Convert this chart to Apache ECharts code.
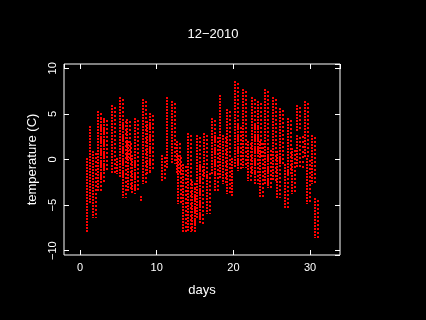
<!DOCTYPE html>
<html lang="en">
<head>
    <meta charset="UTF-8">
    <title>12-2010</title>
    <script src="https://cdn.jsdelivr.net/npm/echarts@6.0.0/dist/echarts.min.js"></script>
    <style>
        body { margin: 0; background: #000; }
        #chart { width: 426px; height: 320px; }
    </style>
</head>
<body>
<div id="chart"></div>
<script>
    // streaks of readings: day range and temperature range (C)
    var dayStart = [0.85, 1.30, 1.74, 2.30, 2.74, 3.17, 4.13, 4.78, 5.22, 5.65, 6.09, 6.30, 6.74, 7.17, 7.96,
        8.26, 8.70, 9.13, 10.74, 11.30, 11.96, 12.61, 12.83, 13.48, 14.13, 14.57, 15.22, 15.00, 15.65, 16.22,
        16.52, 17.17, 17.61, 18.26, 18.70, 19.22, 19.78, 20.22, 20.65, 21.30, 21.87, 22.39, 22.83, 23.26, 23.48,
        24.13, 24.57, 25.22, 25.65, 26.09, 26.74, 27.17, 27.61, 28.26, 28.26, 29.35, 29.57, 30.22, 30.65];
    var dayEnd = [1.17, 1.61, 2.04, 2.74, 3.17, 3.48, 4.78, 5.00, 5.65, 6.09, 6.52, 6.74, 7.17, 7.83, 8.00,
        8.70, 9.13, 9.78, 11.17, 11.52, 12.61, 13.04, 13.26, 14.13, 14.57, 15.22, 15.65, 15.20, 16.09, 16.74,
        17.17, 17.61, 18.26, 18.57, 19.13, 19.78, 20.13, 20.65, 21.09, 21.87, 22.39, 22.83, 23.26, 23.70, 24.13,
        24.78, 25.22, 25.65, 26.09, 26.74, 27.17, 27.61, 28.26, 28.70, 29.13, 29.70, 30.00, 30.65, 31.09];
    var tempLow = [-7.9, -4.9, -6.4, -3.5, -2.7, -1.3, -1.6, -1.6, -2.0, -4.2, -0.2, -3.5, -3.8, -3.5, -4.6,
        -2.7, -1.6, -1.3, -2.4, -0.9, -0.5, -1.6, -4.9, -7.9, -7.9, -8.0, -6.4, -8.0, -7.1, -2.0,
        -6.0, -1.6, -3.5, -2.0, -2.7, -3.8, -4.0, -0.9, -1.3, -0.9, -2.4, -1.6, -2.7, 0.2, -4.2,
        -2.7, -3.1, -2.4, -4.2, -0.5, -5.4, -1.6, -3.8, 3.1, -0.9, 0.2, -4.9, -2.7, -8.6];
    var tempHigh = [0.2, 3.7, 0.9, 5.3, 4.6, 4.6, 6.0, 0.2, 6.9, 4.4, 4.4, 2.0, 0.5, 4.6, -4.0,
        6.6, 4.2, 5.1, 0.5, 6.8, 6.4, 2.0, 0.5, -0.5, 2.9, -2.4, 2.7, -3.1, -0.5, 2.9,
        -1.3, 4.6, 2.7, 7.1, 2.7, 5.5, 0.2, 8.6, 3.8, 7.7, 2.0, 6.9, 3.8, 6.4, 2.0,
        7.7, 1.3, 6.8, 0.9, 5.7, -0.5, 4.6, 1.3, 6.0, 2.7, 6.4, 0.2, 2.7, -4.2];

    var xTicks = [0, 10, 20, 30];
    var yTicks = [-10, -5, 0, 5, 10];

    var streaks = dayStart.map(function (d, i) {
        return [d, dayEnd[i], tempLow[i], tempHigh[i]];
    });

    var font = 'Liberation Sans, Arial, sans-serif';
    var minus = function (v) { return String(v).replace('-', '\u2212'); };

    var chart = echarts.init(document.getElementById('chart'));

    // each streak is drawn as a few dotted columns, like the dense points in the original
    var renderStreak = function (params, api) {
        var top = api.coord([api.value(0), api.value(3)]);
        var bot = api.coord([api.value(1), api.value(2)]);
        var children = [];
        var k = 0;
        for (var x = Math.round(top[0]); x <= Math.round(bot[0]); x += 3) {
            children.push({
                type: 'line',
                shape: { x1: x, y1: Math.round(top[1]), x2: x, y2: Math.round(bot[1]) },
                style: { stroke: '#ff0000', lineWidth: 2, lineDash: [2, 1 + (k % 3)], lineDashOffset: (k * 2) % 5 }
            });
            k++;
        }
        return { type: 'group', children: children };
    };

    var tick = { inside: true, length: 5, lineStyle: { color: '#fff' } };

    var baseX = {
        type: 'value', min: -2.09, max: 33.9,
        axisLine: { show: false, onZero: false },
        splitLine: { show: false },
        axisTick: tick
    };
    var baseY = {
        type: 'value', min: -10.47, max: 10.47,
        axisLine: { show: false, onZero: false },
        splitLine: { show: false },
        axisTick: tick
    };

    var option = {
        backgroundColor: '#000',
        animation: false,
        title: {
            text: '12\u22122010', left: 'center', top: 28, padding: 0,
            textStyle: { color: '#fff', fontSize: 13, fontWeight: 'normal', fontFamily: font }
        },
        grid: {
            left: 64, top: 64, width: 276, height: 191,
            show: true, borderColor: '#fff', borderWidth: 1, backgroundColor: 'transparent'
        },
        xAxis: [
            Object.assign({}, baseX, {
                position: 'bottom',
                name: 'days', nameLocation: 'middle', nameGap: 29,
                nameTextStyle: { color: '#fff', fontSize: 13, fontFamily: font },
                axisLabel: {
                    color: '#fff', fontSize: 11, fontFamily: font, margin: 7,
                    showMinLabel: false, showMaxLabel: false,
                    formatter: function (v) { return xTicks.indexOf(v) >= 0 ? minus(v) : ''; }
                }
            }),
            Object.assign({}, baseX, { position: 'top', axisLabel: { show: false } })
        ],
        yAxis: [
            Object.assign({}, baseY, {
                position: 'left',
                name: 'temperature (C)', nameLocation: 'middle', nameGap: 24,
                nameTextStyle: { color: '#fff', fontSize: 13, fontFamily: font },
                axisLabel: {
                    color: '#fff', fontSize: 11, fontFamily: font, margin: 6, rotate: 90,
                    showMinLabel: false, showMaxLabel: false,
                    formatter: function (v) { return yTicks.indexOf(v) >= 0 ? minus(v) : ''; }
                }
            }),
            Object.assign({}, baseY, { position: 'right', axisLabel: { show: false } })
        ],
        series: [{
            type: 'custom',
            renderItem: renderStreak,
            encode: { x: [0, 1], y: [2, 3] },
            data: streaks,
            clip: true
        }]
    };

    chart.setOption(option);
</script>
</body>
</html>
